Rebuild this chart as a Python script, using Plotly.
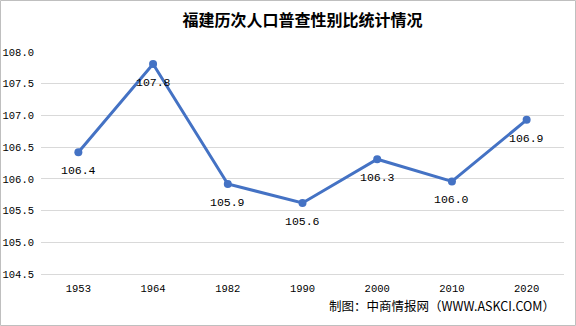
import plotly.graph_objects as go

years = ["1953", "1964", "1982", "1990", "2000", "2010", "2020"]
sex_ratio = [106.42, 107.81, 105.92, 105.62, 106.31, 105.96, 106.93]
title_text = "福建历次人口普查性别比统计情况"
source_text = "制图：中商情报网（WWW.ASKCI.COM）"

pos = list(range(len(years)))
tick_font = dict(family="Liberation Mono, monospace", size=10.5, color="#000000")

L, R, T, B = 41, 12, 52, 52
PW, PH = 576 - L - R, 326 - T - B

fig = go.Figure()
fig.add_trace(go.Scatter(
    x=pos, y=sex_ratio, mode="lines+markers",
    line=dict(color="#4472C4", width=3),
    marker=dict(color="#4472C4", size=8),
    cliponaxis=False, showlegend=False,
))

label_annotations = [
    dict(x=i, y=v, xref="x", yref="y", text=f"{v:.1f}", showarrow=False,
         yanchor="top", yshift=-10, font=dict(family="Liberation Mono, monospace", size=11.5, color="#000000"))
    for i, v in zip(pos, sex_ratio)
]

fig.update_layout(
    width=576, height=326,
    margin=dict(l=L, r=R, t=T, b=B, autoexpand=False),
    paper_bgcolor="white", plot_bgcolor="white",
    title=dict(text="<b>" + title_text + "</b>", x=0.5, xanchor="center", xref="paper",
               y=1 - 20 / 326, yanchor="middle",
               font=dict(family="Noto Sans CJK SC", size=16, color="#000000")),
    xaxis=dict(range=[-0.5, len(years) - 0.5], tickvals=pos, ticktext=years, automargin=False,
               showgrid=False, zeroline=False, showline=True, linecolor="#D9D9D9", linewidth=1,
               ticks="", tickfont=tick_font, ticklabelstandoff=4),
    yaxis=dict(range=[104.5, 108.0], dtick=0.5, tickformat=".1f", showgrid=True, gridcolor="#D9D9D9",
               zeroline=False, ticks="", showline=False, automargin=False, ticklabelstandoff=6,
               tickfont=tick_font),
    font=dict(family="Noto Sans CJK SC"),
    shapes=[dict(type="rect", xref="paper", yref="paper",
                 x0=-(L - 0.5) / PW, x1=1 + (R - 0.5) / PW,
                 y0=-(B - 0.5) / PH, y1=1 + (T - 0.5) / PH,
                 line=dict(color="#BFBFBF", width=1))],
    annotations=label_annotations + [dict(text=source_text, xref="paper", yref="paper",
                      x=(557 - L) / PW, y=-(305 - (326 - B)) / PH,
                      xanchor="right", yanchor="middle", showarrow=False,
                      font=dict(family="Noto Sans CJK SC", size=12.5, color="#000000"))],
)

fig.write_html("out.html")
